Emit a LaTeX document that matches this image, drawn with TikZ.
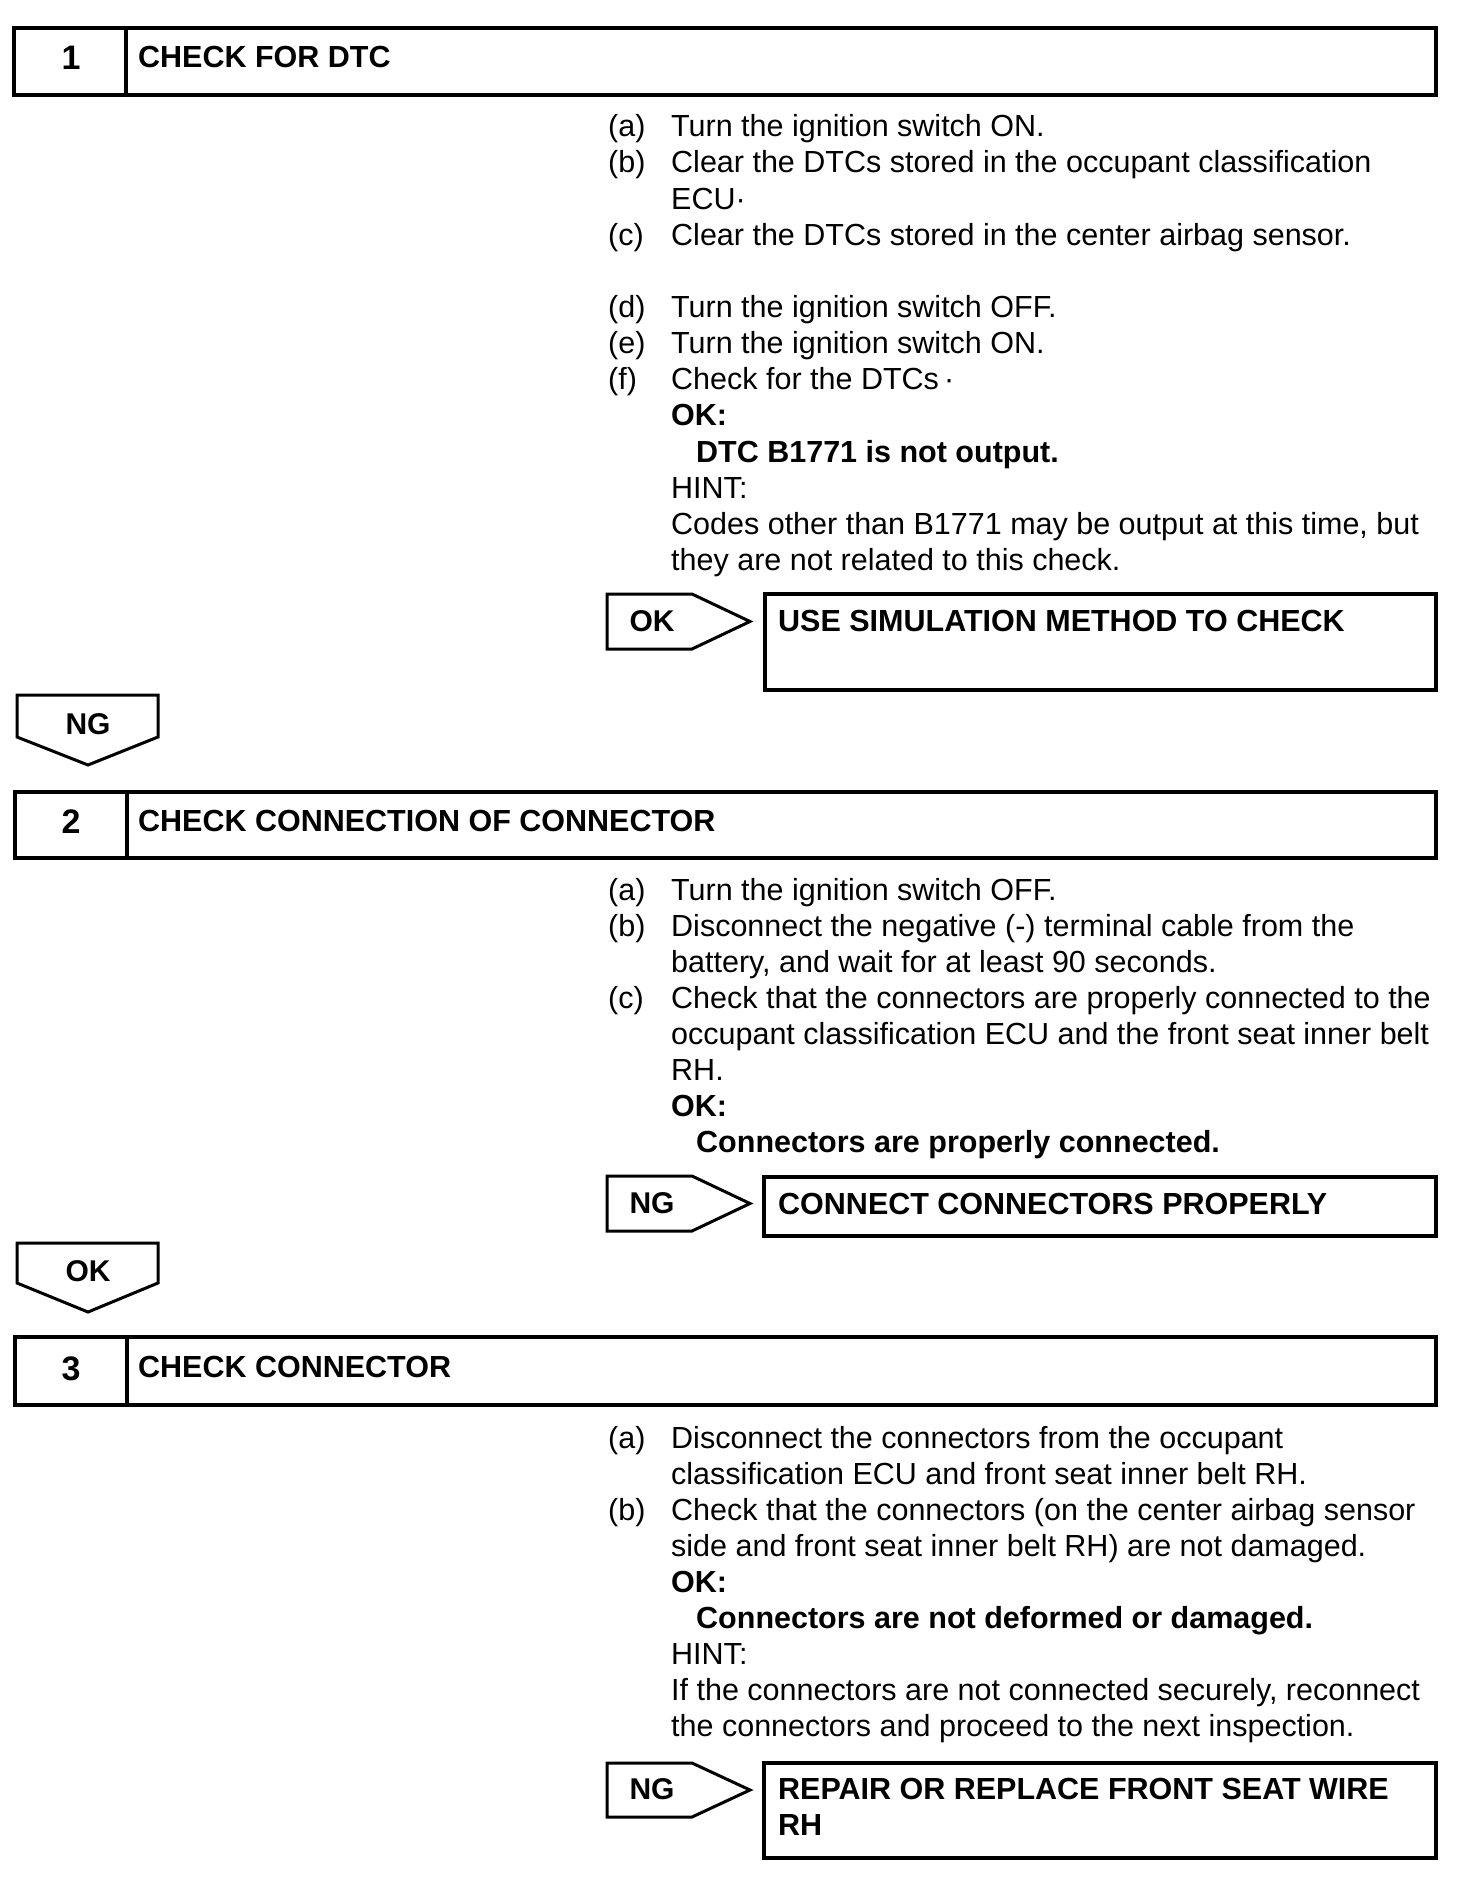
\documentclass[tikz,border=0pt]{standalone}
\usepackage{fontspec}
\setmainfont{Liberation Sans}
\begin{document}
\begin{tikzpicture}[x=1pt,y=-1pt,
  frame/.style={draw=black,line width=3.8pt},
  tag/.style={draw=black,line width=3pt,line join=miter},
  body/.style={anchor=base west,inner sep=0pt,font=\fontsize{30.5}{36}\selectfont},
  bodyb/.style={body,font=\fontsize{30.5}{36}\selectfont\bfseries},
  num/.style={anchor=base,inner sep=0pt,font=\fontsize{34}{40}\selectfont\bfseries},
  tagtxt/.style={anchor=base,inner sep=0pt,font=\fontsize{30}{36}\selectfont\bfseries}]
\useasboundingbox (0,0) rectangle (1456,1884);
% ---------- step 1
\draw[frame] (14,28) rectangle (1436,95);
\draw[frame] (126,28) -- (126,95);
\node[num] (n1) at (71,70) {1};
\node[bodyb] (h1) at (138,67) {CHECK FOR DTC};
\node[body] (s1a) at (608,136) {(a)};
\node[body] (t1a) at (671,136) {Turn the ignition switch ON.};
\node[body] (s1b) at (608,172.5) {(b)};
\node[body] (t1b) at (671,172.5) {Clear the DTCs stored in the occupant classification};
\node[body] (t1b2) at (671,209) {ECU·};
\node[body] (s1c) at (608,245) {(c)};
\node[body] (t1c) at (671,245) {Clear the DTCs stored in the center airbag sensor.};
\node[body] (s1d) at (608,317) {(d)};
\node[body] (t1d) at (671,317) {Turn the ignition switch OFF.};
\node[body] (s1e) at (608,353) {(e)};
\node[body] (t1e) at (671,353) {Turn the ignition switch ON.};
\node[body] (s1f) at (608,389) {(f)};
\node[body] (t1f) at (671,389) {Check for the DTCs\,·};
\node[bodyb] (ok1) at (671,425) {OK:};
\node[bodyb] (ok1t) at (696,462) {DTC B1771 is not output.};
\node[body] (h1h) at (671,498) {HINT:};
\node[body] (h1t) at (671,534) {Codes other than B1771 may be output at this time, but};
\node[body] (h1t2) at (671,570) {they are not related to this check.};
\draw[tag] (607,594) -- (692,594) -- (750,621.5) -- (692,649) -- (607,649) -- cycle;
\node[tagtxt] (ok1tag) at (652,631) {OK};
\draw[frame] (765,594) rectangle (1436,690);
\node[bodyb] (r1) at (778,631) {USE SIMULATION METHOD TO CHECK};
\draw[tag] (17,695) -- (158,695) -- (158,737) -- (88,765) -- (17,737) -- cycle;
\node[tagtxt] (ng1) at (88,734) {NG};
% ---------- step 2
\draw[frame] (15,792) rectangle (1436,858);
\draw[frame] (127,792) -- (127,858);
\node[num] (n2) at (71,833) {2};
\node[bodyb] (h2) at (138,831) {CHECK CONNECTION OF CONNECTOR};
\node[body] (s2a) at (608,900) {(a)};
\node[body] (t2a) at (671,900) {Turn the ignition switch OFF.};
\node[body] (s2b) at (608,936) {(b)};
\node[body] (t2b) at (671,936) {Disconnect the negative (-) terminal cable from the};
\node[body] (t2b2) at (671,972) {battery, and wait for at least 90 seconds.};
\node[body] (s2c) at (608,1008) {(c)};
\node[body] (t2c) at (671,1008) {Check that the connectors are properly connected to the};
\node[body] (t2c2) at (671,1044) {occupant classification ECU and the front seat inner belt};
\node[body] (t2c3) at (671,1080) {RH.};
\node[bodyb] (ok2) at (671,1116) {OK:};
\node[bodyb] (ok2t) at (696,1152) {Connectors are properly connected.};
\draw[tag] (607,1176) -- (692,1176) -- (750,1203.5) -- (692,1231) -- (607,1231) -- cycle;
\node[tagtxt] (ng2tag) at (652,1213) {NG};
\draw[frame] (764,1177) rectangle (1436,1236);
\node[bodyb] (r2) at (778,1214) {CONNECT CONNECTORS PROPERLY};
\draw[tag] (17,1243) -- (158,1243) -- (158,1283) -- (88,1312) -- (17,1283) -- cycle;
\node[tagtxt] (ok2d) at (88,1281) {OK};
% ---------- step 3
\draw[frame] (15,1337) rectangle (1436,1405);
\draw[frame] (127,1337) -- (127,1405);
\node[num] (n3) at (71,1380) {3};
\node[bodyb] (h3) at (138,1377) {CHECK CONNECTOR};
\node[body] (s3a) at (608,1448) {(a)};
\node[body] (t3a) at (671,1448) {Disconnect the connectors from the occupant};
\node[body] (t3a2) at (671,1484) {classification ECU and front seat inner belt RH.};
\node[body] (s3b) at (608,1520) {(b)};
\node[body] (t3b) at (671,1520) {Check that the connectors (on the center airbag sensor};
\node[body] (t3b2) at (671,1556) {side and front seat inner belt RH) are not damaged.};
\node[bodyb] (ok3) at (671,1592) {OK:};
\node[bodyb] (ok3t) at (696,1628) {Connectors are not deformed or damaged.};
\node[body] (h3h) at (671,1664) {HINT:};
\node[body] (h3t) at (671,1700) {If the connectors are not connected securely, reconnect};
\node[body] (h3t2) at (671,1736) {the connectors and proceed to the next inspection.};
\draw[tag] (607,1763) -- (692,1763) -- (750,1790) -- (692,1817) -- (607,1817) -- cycle;
\node[tagtxt] (ng3tag) at (652,1799) {NG};
\draw[frame] (764,1763) rectangle (1436,1858);
\node[bodyb] (r3) at (778,1799) {REPAIR OR REPLACE FRONT SEAT WIRE};
\node[bodyb] (r3b) at (778,1835) {RH};
\end{tikzpicture}
\end{document}
